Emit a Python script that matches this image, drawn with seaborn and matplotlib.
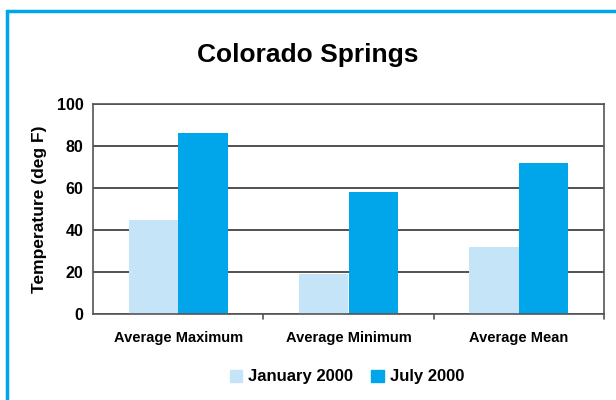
import matplotlib
matplotlib.use("Agg")
import matplotlib.pyplot as plt
import pandas as pd
import seaborn as sns
from matplotlib.patches import Rectangle

# valores
categorias = ["Average Maximum", "Average Minimum", "Average Mean"]
janeiro = [45, 19, 32]
julho = [86, 58, 72]
series = ["January 2000", "July 2000"]
yticks = [0, 20, 40, 60, 80, 100]

CORES = {"January 2000": "#c6e4f7", "July 2000": "#00a6e9"}

df = pd.DataFrame({
    "categoria": categorias * 2,
    "serie": [series[0]] * 3 + [series[1]] * 3,
    "valor": janeiro + julho,
})

sns.set_style("white")
plt.rcParams["font.family"] = ["Liberation Sans", "DejaVu Sans"]
plt.rcParams["font.weight"] = "bold"
plt.rcParams["text.color"] = "black"
plt.rcParams["xtick.color"] = "black"
plt.rcParams["ytick.color"] = "black"
plt.rcParams["axes.labelcolor"] = "black"

fig = plt.figure(figsize=(6.16, 4.00), dpi=100)
ax = fig.add_axes([93 / 616, 1 - 314 / 400, 511 / 616, 210 / 400])

sns.barplot(data=df, x="categoria", y="valor", hue="serie", palette=CORES,
            width=0.58, gap=0, saturation=1, ax=ax, legend=False,
            linewidth=0, edgecolor="none")

ax.set_ylim(0, 100)
ax.set_xlim(-0.5, 2.5)
ax.set_yticks(yticks)
ax.yaxis.grid(True, color="#333333", linewidth=1.2)
ax.set_axisbelow(True)
for s in ax.spines.values():
    s.set_color("#555555")
    s.set_linewidth(1.2)
    s.set_visible(True)

ax.set_xticks([0, 1, 2])
ax.set_xticklabels(categorias, fontsize=10.5, fontweight="bold")
ax.tick_params(axis="x", length=0, pad=12)
ax.tick_params(axis="y", direction="out", length=6, width=1.2, color="#555555",
               labelsize=11.5, pad=1)
for lab in ax.get_yticklabels():
    lab.set_fontweight("bold")
# marcas entre categorias
for xb in [0.5, 1.5, 2.5]:
    ax.plot([xb, xb], [0, -2.6], color="#555555", lw=1.2, clip_on=False)

ax.set_xlabel("")
ax.set_ylabel("Temperature (deg F)", fontsize=12.5, fontweight="bold", labelpad=6.5)

fig.text(0.5, 1 - 62 / 400, "Colorado Springs", ha="center", va="baseline",
         fontsize=19, fontweight="bold")

# legenda
handles = [Rectangle((0, 0), 1, 1, color=CORES[s]) for s in series]
fig.legend(handles, series, loc="center", bbox_to_anchor=(0.563, 1 - 377 / 400),
           ncol=2, frameon=False, handlelength=0.75, handleheight=0.75,
           handletextpad=0.35, columnspacing=1.1, prop={"weight": "bold", "size": 12})

# moldura azul
fig.patches.append(Rectangle((7 / 616, -0.05), 1.1, 1 - 11 / 400 + 0.05,
                             transform=fig.transFigure, fill=False,
                             edgecolor="#00a6e9", linewidth=2.5))

fig.savefig("out.png", dpi=100)
